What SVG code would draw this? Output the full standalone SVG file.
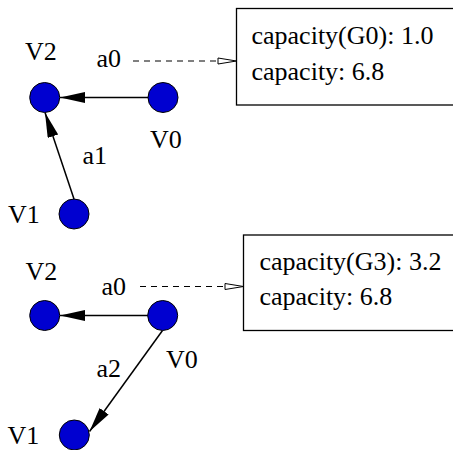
<svg xmlns="http://www.w3.org/2000/svg" width="453" height="450" viewBox="0 0 453 450">
<style>
text{font-family:'Times New Roman','Liberation Serif','DejaVu Serif',serif;font-size:26px;fill:#000}
.node{fill:#0000d0;stroke:#000;stroke-width:1}
.edge{stroke:#000;stroke-width:1.5;fill:none}
.dash{stroke:#000;stroke-width:1;fill:none;stroke-dasharray:6,5}
.box{fill:#fff;stroke:#000;stroke-width:1.3}
.open{fill:#fff;stroke:#000;stroke-width:1}
</style>
<defs>
<marker id="ah" markerUnits="userSpaceOnUse" markerWidth="26" markerHeight="12" refX="25" refY="5.5" orient="auto" viewBox="0 0 26 12">
<path d="M0,0 L25,5.5 L0,11 z" fill="#000"/>
</marker>
</defs>
<g id="connectors">
<line class="edge" x1="148" y1="97.5" x2="60" y2="97.5" marker-end="url(#ah)"/>
<line class="edge" x1="74" y1="199" x2="45" y2="112.5" marker-end="url(#ah)"/>
<line class="dash" x1="133" y1="61" x2="219" y2="61"/>
<path class="open" d="M218,58 L236.5,61 L218,64 z"/>
<line class="edge" x1="148" y1="315.5" x2="60" y2="315.5" marker-end="url(#ah)"/>
<line class="edge" x1="162.5" y1="330.5" x2="89.5" y2="431.5" marker-end="url(#ah)"/>
<line class="dash" x1="140" y1="286.5" x2="226" y2="286.5"/>
<path class="open" d="M225,283.5 L243.5,286.5 L225,289.5 z"/>
</g>
<g id="box1">
<rect class="box" x="236.5" y="8.5" width="220" height="96.5"/>
<text x="251.5" y="44">capacity(G0): 1.0</text>
<text x="251.5" y="80">capacity: 6.8</text>
</g>
<g id="box2">
<rect class="box" x="243.5" y="235" width="220" height="95.5"/>
<text x="259.5" y="269.5">capacity(G3): 3.2</text>
<text x="259.5" y="305">capacity: 6.8</text>
</g>
<g id="top-V2">
<circle class="node" cx="44.7" cy="97.5" r="15"/>
<text x="25" y="60">V2</text>
</g>
<g id="top-V0">
<circle class="node" cx="163" cy="97.5" r="15"/>
<text x="150" y="147.5">V0</text>
</g>
<g id="top-V1">
<circle class="node" cx="74" cy="214" r="15"/>
<text x="8" y="223">V1</text>
</g>
<g id="top-labels">
<text x="96.5" y="66.5">a0</text>
<text x="82.5" y="164">a1</text>
</g>
<g id="bot-V2">
<circle class="node" cx="44.7" cy="315.5" r="15"/>
<text x="25.5" y="279.5">V2</text>
</g>
<g id="bot-V0">
<circle class="node" cx="162.7" cy="315.5" r="15"/>
<text x="166" y="368">V0</text>
</g>
<g id="bot-V1">
<circle class="node" cx="74.3" cy="435" r="15"/>
<text x="7.5" y="443.5">V1</text>
</g>
<g id="bot-labels">
<text x="101.5" y="294.5">a0</text>
<text x="96.5" y="377">a2</text>
</g>
</svg>
